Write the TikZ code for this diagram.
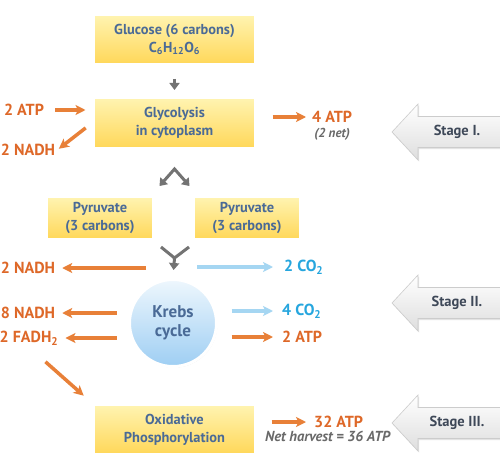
\documentclass[tikz,border=0pt]{standalone}
\usepackage{fontspec}
\setmainfont{PT Sans}
\usepackage{tikz}
\usetikzlibrary{arrows.meta, positioning, calc, shadows}
\definecolor{boxtext}{RGB}{74,106,150}
\definecolor{boxtop}{RGB}{255,244,178}
\definecolor{boxbot}{RGB}{255,215,88}
\definecolor{atporange}{RGB}{222,104,40}
\definecolor{arroworange}{RGB}{232,128,56}
\definecolor{co2blue}{RGB}{38,166,222}
\definecolor{lineblue}{RGB}{165,214,242}
\definecolor{stepgray}{RGB}{115,115,115}
\definecolor{notegray}{RGB}{105,105,105}
\definecolor{stagetext}{RGB}{62,72,88}
\definecolor{krebstop}{RGB}{238,247,253}
\definecolor{krebsbot}{RGB}{158,206,243}

\begin{document}
\begin{tikzpicture}[x=1pt, y=-1pt,
  box/.style={draw=white, line width=3pt, top color=boxtop, bottom color=boxbot, text=boxtext, font=\bfseries\fontsize{14.4}{18}\selectfont, align=center, inner sep=0pt, drop shadow={opacity=0.18, shadow xshift=0.8pt, shadow yshift=-1.2pt}},
  krebsball/.style={circle, draw=white, line width=3pt, top color=krebstop, bottom color=krebsbot, text=boxtext, font=\bfseries\fontsize{17}{19}\selectfont, align=center, inner sep=0pt, minimum size=87pt, drop shadow={opacity=0.18, shadow xshift=0.8pt, shadow yshift=-1.2pt}},
  atplabel/.style={text=atporange, font=\bfseries\fontsize{16}{18}\selectfont, inner sep=2pt},
  co2label/.style={text=co2blue, font=\bfseries\fontsize{16}{18}\selectfont, inner sep=2pt},
  note/.style={text=notegray, font=\bfseries\itshape\fontsize{13}{15}\selectfont, inner sep=1pt},
  stagetxt/.style={text=stagetext, font=\bfseries\fontsize{14.5}{16}\selectfont},
  stagearrow/.style={draw=gray!40, line width=0.6pt, top color=white, bottom color=gray!26, drop shadow={opacity=0.22, shadow xshift=1pt, shadow yshift=-1.5pt}},
  grayline/.style={draw=stepgray, line width=3pt},
  grayarrow/.style={grayline, >={Triangle[length=7pt,width=10pt]}, ->},
  orangearrow/.style={draw=arroworange, line width=3.5pt, >={Stealth[length=10pt,width=10pt,inset=2.5pt]}, ->},
  bluearrow/.style={draw=lineblue, line width=3.5pt, >={Stealth[length=10pt,width=10pt,inset=2.5pt]}, ->}]

\fill[white] (0,0) rectangle (500,468);
\useasboundingbox (0,0) rectangle (500,468);

% boxes
\node[box, minimum width=162pt, minimum height=50pt] (glucose) at (174.5,39.5) {Glucose (6 carbons)\\C\textsubscript{6}H\textsubscript{12}O\textsubscript{6}};
\node[box, minimum width=162pt, minimum height=51pt] (glycolysis) at (174.5,123) {Glycolysis\\in cytoplasm};
\node[box, minimum width=107pt, minimum height=43pt] (pyrL) at (100,218) {Pyruvate\\(3 carbons)};
\node[box, minimum width=107pt, minimum height=43pt] (pyrR) at (247,218) {Pyruvate\\(3 carbons)};
\node[krebsball] (krebs) at (173,323) {Krebs\\cycle};
\node[box, minimum width=162pt, minimum height=50pt] (oxphos) at (174.5,429.5) {Oxidative\\Phosphorylation};

% labels
\node[atplabel] (atpIn) at (24,110) {2 ATP};
\node[atplabel] (nadhA) at (28,150) {2 NADH};
\node[atplabel, anchor=west] (atpB) at (310,117) {4 ATP};
\node[note, below=2pt of atpB] (net) {(2 net)};
\node[atplabel] (nadhB) at (28,268) {2 NADH};
\node[co2label, anchor=west] (co2A) at (282,267) {2 CO\textsubscript{2}};
\node[atplabel] (nadhC) at (28,313) {8 NADH};
\node[co2label, anchor=west] (co2B) at (280,311) {4 CO\textsubscript{2}};
\node[atplabel] (fadh) at (29,338) {2 FADH\textsubscript{2}};
\node[atplabel, anchor=west] (atpC) at (280,337) {2 ATP};
\node[atplabel, anchor=west] (atpD) at (312,422) {32 ATP};
\node[note, font=\bfseries\itshape\fontsize{14.5}{16}\selectfont, below=0pt of atpD, xshift=-11pt] (harvest) {Net harvest = 36 ATP};

% gray flow
\draw[grayarrow, shorten <=13pt, shorten >=6pt] (glucose.south) -- (glycolysis.north);
\coordinate (fork) at ($(glycolysis.south)+(0,19)$);
\coordinate (forkL) at ($(fork)+(-15,17)$);
\coordinate (forkR) at ($(fork)+(15,17)$);
\draw[grayarrow, <->] (forkL) -- (fork) -- (forkR);
\coordinate (mergeL) at ($(pyrL.south east)+(6,6)$);
\coordinate (mergeR) at ($(pyrR.south west)+(-3,6)$);
\coordinate (merge) at ($(krebs.north)+(1.5,-20)$);
\draw[grayline] (mergeL) -- (merge) -- (mergeR);
\draw[grayarrow, shorten >=8pt] (merge) -- (krebs.north);

% inputs and outputs
\draw[orangearrow, shorten <=9pt, shorten >=6.5pt] (atpIn.east) -- (atpIn.east -| glycolysis.west);
\draw[orangearrow, shorten <=8pt, shorten >=2pt] (glycolysis.west) -- (nadhA.east);
\draw[orangearrow, shorten <=15.5pt, shorten >=4pt] (atpB.west -| glycolysis.east) -- (atpB.west);
\draw[orangearrow, shorten <=27pt, shorten >=5pt] (nadhB.east -| krebs.north) -- (nadhB.east);
\draw[bluearrow, shorten <=24pt, shorten >=9pt] (co2A.west -| krebs.north) -- (co2A.west);
\draw[orangearrow, shorten <=11.5pt, shorten >=5pt] (nadhC.east -| krebs.west) -- (nadhC.east);
\draw[bluearrow, shorten <=13.5pt, shorten >=7pt] (co2B.west -| krebs.east) -- (co2B.west);
\draw[orangearrow, shorten <=11.5pt, shorten >=5pt] (fadh.east -| krebs.west) -- (fadh.east);
\draw[orangearrow, shorten <=13.5pt, shorten >=7pt] (atpC.west -| krebs.east) -- (atpC.west);
\draw[orangearrow, shorten <=22pt, shorten >=11pt] (fadh.south) -- (oxphos.north west);
\draw[orangearrow, shorten <=14.5pt, shorten >=6pt] (atpD.west -| oxphos.east) -- (atpD.west);

% stages
\foreach \y/\lab/\n in {132/Stage I./one, 303/Stage II./two, 423/Stage III./three}{
  \draw[stagearrow] (502,\y-15.5) -- (418,\y-15.5) -- (418,\y-28) -- (392,\y) -- (418,\y+28) -- (418,\y+15.5) -- (502,\y+15.5);
  \node[stagetxt] (stage\n) at (457,\y) {\lab};
}
\end{tikzpicture}
\end{document}
